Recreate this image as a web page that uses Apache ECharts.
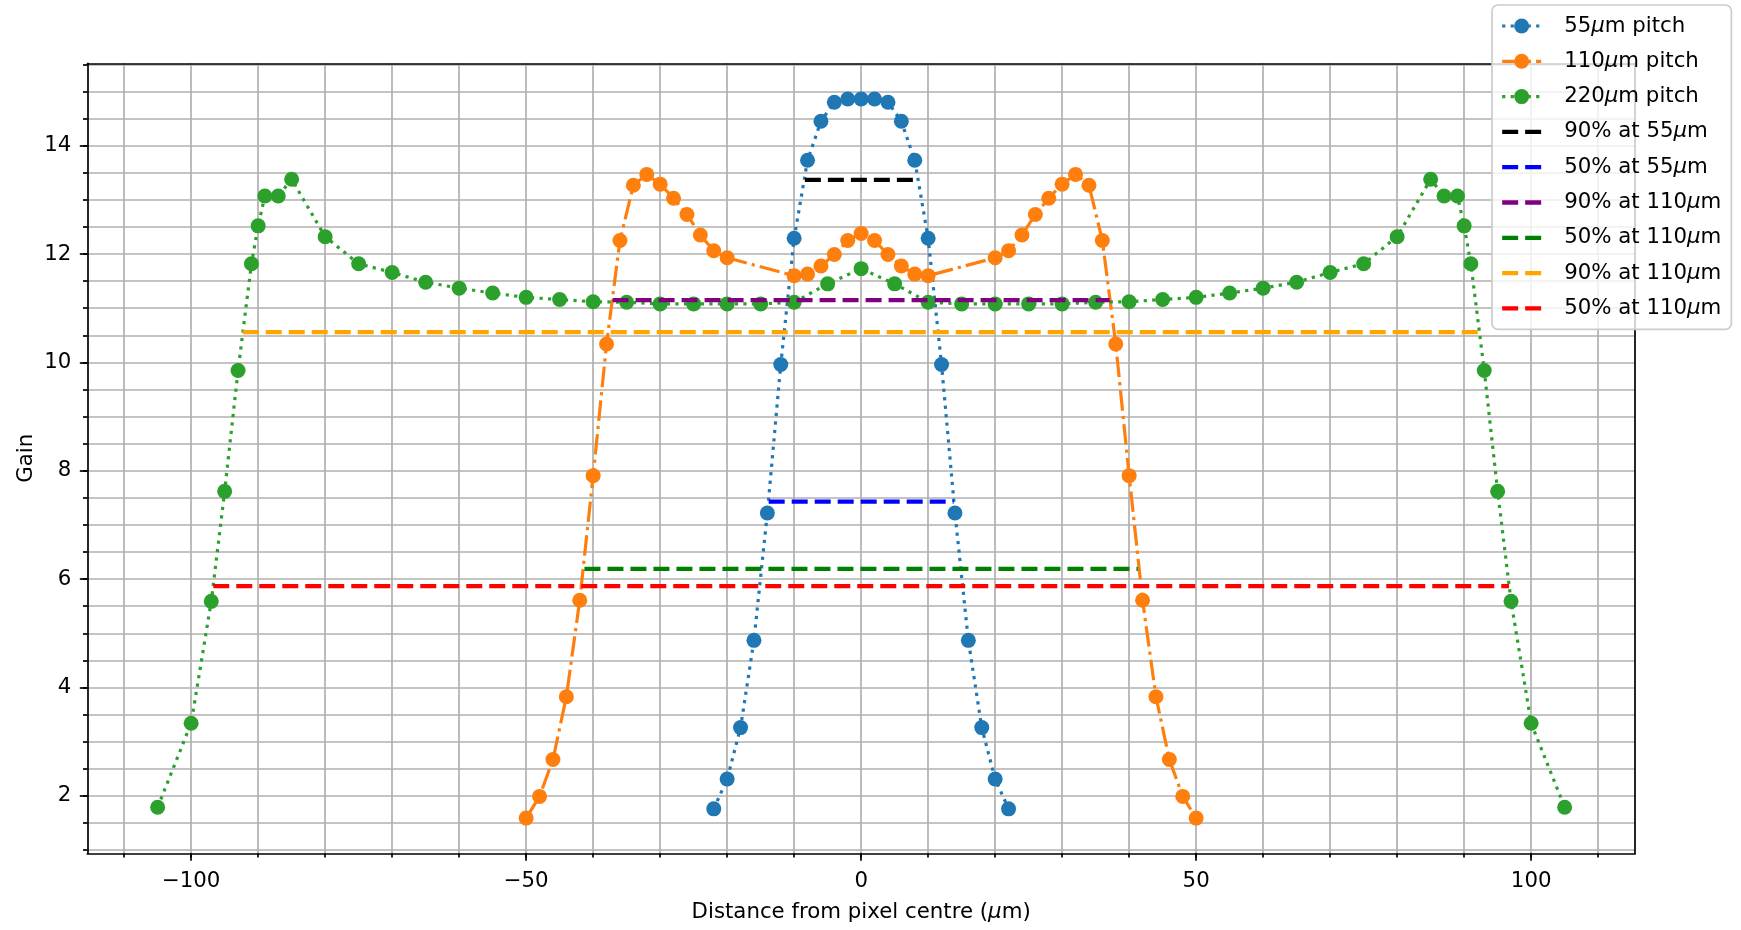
<!DOCTYPE html>
<html>
<head>
<meta charset="utf-8">
<script src="https://cdn.jsdelivr.net/npm/echarts@6/dist/echarts.min.js"></script>
<style>
html,body{margin:0;padding:0;background:#fff;}
#chart{width:1741px;height:930px;}
</style>
</head>
<body>
<div id="chart"></div>
<script>
// ---- data ----
const x55 = [-22,-20,-18,-16,-14,-12,-10,-8,-6,-4,-2,0,2,4,6,8,10,12,14,16,18,20,22];
const gain55 = [1.76,2.31,3.26,4.87,7.22,9.96,12.29,13.73,14.45,14.80,14.86,14.86,14.86,14.80,14.45,13.73,12.29,9.96,7.22,4.87,3.26,2.31,1.76];

const x110 = [-50,-48,-46,-44,-42,-40,-38,-36,-34,-32,-30,-28,-26,-24,-22,-20,-10,-8,-6,-4,-2,0,2,4,6,8,10,20,22,24,26,28,30,32,34,36,38,40,42,44,46,48,50];
const gain110 = [1.59,1.99,2.67,3.83,5.61,7.91,10.34,12.25,13.27,13.47,13.29,13.03,12.73,12.35,12.06,11.93,11.60,11.63,11.78,11.99,12.25,12.38,12.25,11.99,11.78,11.63,11.60,11.93,12.06,12.35,12.73,13.03,13.29,13.47,13.27,12.25,10.34,7.91,5.61,3.83,2.67,1.99,1.59];

const x220 = [-105,-100,-97,-95,-93,-91,-90,-89,-87,-85,-80,-75,-70,-65,-60,-55,-50,-45,-40,-35,-30,-25,-20,-15,-10,-5,0,5,10,15,20,25,30,35,40,45,50,55,60,65,70,75,80,85,87,89,90,91,93,95,97,100,105];
const gain220 = [1.79,3.34,5.59,7.62,9.85,11.82,12.52,13.07,13.07,13.38,12.32,11.82,11.66,11.48,11.37,11.28,11.20,11.16,11.12,11.11,11.08,11.08,11.08,11.08,11.11,11.45,11.73,11.45,11.11,11.08,11.08,11.08,11.08,11.11,11.12,11.16,11.20,11.28,11.37,11.48,11.66,11.82,12.32,13.38,13.07,13.07,12.52,11.82,9.85,7.62,5.59,3.34,1.79];

const refNames = ['90% at 55μm','50% at 55μm','90% at 110μm','50% at 110μm','90% at 110μm\u200b','50% at 110μm\u200b'];
const refLevel = [13.37, 7.43, 11.15, 6.19, 10.56, 5.87];
const refStart = [-8.4, -13.8, -37.1, -41.3, -92.3, -96.7];
const refEnd = [8.4, 13.8, 37.1, 41.3, 92.3, 96.7];

const xMajorTicks = [-100, -50, 0, 50, 100];
const xMinorTicks = [-110,-100,-90,-80,-70,-60,-50,-40,-30,-20,-10,0,10,20,30,40,50,60,70,80,90,100,110];
const yMajorTicks = [2, 4, 6, 8, 10, 12, 14];
const yMinorTicks = [1,1.5,2,2.5,3,3.5,4,4.5,5,5.5,6,6.5,7,7.5,8,8.5,9,9.5,10,10.5,11,11.5,12,12.5,13,13.5,14,14.5,15,15.5];

// ---- styles ----
const FONT = 'DejaVu Sans';
const FS = 21.3;
const refColors = ['#000000', '#0000ff', '#800080', '#008000', '#ffa500', '#ff0000'];
const X_MIN = -115.5, X_MAX = 115.5, Y_MIN = 0.94, Y_MAX = 15.52;
const GRIDC = '#b0b0b0';
const LW = 3.2, SYM = 15;

function zip(xs, ys) { return xs.map((x, i) => [x, ys[i]]); }
function minusFmt(v) { return v < 0 ? '\u2212' + Math.abs(v) : String(v); }

const series = [
  { name: '55μm pitch', type: 'line', data: zip(x55, gain55), symbol: 'circle', symbolSize: SYM,
    lineStyle: { color: '#1f77b4', width: LW, type: [3.2, 5.3] }, itemStyle: { color: '#1f77b4', borderWidth: 0 }, z: 2 },
  { name: '110μm pitch', type: 'line', data: zip(x110, gain110), symbol: 'circle', symbolSize: SYM,
    lineStyle: { color: '#ff7f0e', width: LW, type: [20.5, 5.1, 3.2, 5.1] }, itemStyle: { color: '#ff7f0e', borderWidth: 0 }, z: 2 },
  { name: '220μm pitch', type: 'line', data: zip(x220, gain220), symbol: 'circle', symbolSize: SYM,
    lineStyle: { color: '#2ca02c', width: LW, type: [3.2, 5.3] }, itemStyle: { color: '#2ca02c', borderWidth: 0 }, z: 2 }
];
refNames.forEach((n, i) => {
  series.push({
    name: n, type: 'line', data: [[refStart[i], refLevel[i]], [refEnd[i], refLevel[i]]],
    symbol: 'none', lineStyle: { color: refColors[i], width: 4.3, type: [16, 7] },
    itemStyle: { color: refColors[i] }, z: 3
  });
});

const legendData = [
  { name: '55μm pitch', lineStyle: { width: LW } },
  { name: '110μm pitch', lineStyle: { width: LW } },
  { name: '220μm pitch', lineStyle: { width: LW } }
].concat(refNames.map(n => ({ name: n, lineStyle: { width: 4.3 }, itemStyle: { opacity: 0, color: 'rgba(0,0,0,0)', borderWidth: 0 } })));

const axisLineStyle = { color: '#000', width: 1.7 };
const option = {
  animation: false,
  backgroundColor: '#fff',
  textStyle: { fontFamily: FONT },
  grid: { left: 87.3, right: 106, top: 63.3, bottom: 76.7, containLabel: false },
  xAxis: [
    { type: 'value', min: X_MIN, max: X_MAX, position: 'bottom',
      axisLine: { show: true, onZero: false, lineStyle: axisLineStyle },
      axisTick: { show: true, customValues: xMinorTicks, length: 4.3, lineStyle: axisLineStyle },
      axisLabel: { show: true, customValues: xMajorTicks, formatter: minusFmt, fontSize: FS, color: '#000', fontFamily: FONT, margin: 18 },
      splitLine: { show: true, lineStyle: { color: GRIDC, width: 1.7 } },
      name: 'Distance from pixel centre ({i|μ}m)', nameLocation: 'middle', nameGap: 49,
      nameTextStyle: { fontSize: FS, color: '#000', fontFamily: FONT, rich: { i: { fontStyle: 'italic', fontSize: FS, fontFamily: FONT, color: '#000' } } }
    },
    { type: 'value', min: X_MIN, max: X_MAX, position: 'bottom',
      axisLine: { show: false, onZero: false },
      axisTick: { show: true, customValues: xMajorTicks, length: 7.5, lineStyle: axisLineStyle },
      axisLabel: { show: false }, splitLine: { show: false }
    },
    { type: 'value', min: X_MIN, max: X_MAX, position: 'top',
      axisLine: { show: true, onZero: false, lineStyle: axisLineStyle },
      axisTick: { show: false }, axisLabel: { show: false }, splitLine: { show: false }
    }
  ],
  yAxis: [
    { type: 'value', min: Y_MIN, max: Y_MAX, position: 'left',
      axisLine: { show: true, onZero: false, lineStyle: axisLineStyle },
      axisTick: { show: true, customValues: yMinorTicks, length: 4.3, lineStyle: axisLineStyle },
      axisLabel: { show: false },
      splitLine: { show: true, lineStyle: { color: GRIDC, width: 1.7 } },
      name: 'Gain', nameLocation: 'middle', nameGap: 50,
      nameTextStyle: { fontSize: FS, color: '#000', fontFamily: FONT }
    },
    { type: 'value', min: Y_MIN, max: Y_MAX, position: 'left',
      axisLine: { show: false, onZero: false },
      axisTick: { show: true, customValues: yMajorTicks, length: 7.5, lineStyle: axisLineStyle },
      axisLabel: { show: true, customValues: yMajorTicks, fontSize: FS, color: '#000', fontFamily: FONT, margin: 16 },
      splitLine: { show: false }
    },
    { type: 'value', min: Y_MIN, max: Y_MAX, position: 'right',
      axisLine: { show: true, onZero: false, lineStyle: axisLineStyle },
      axisTick: { show: false }, axisLabel: { show: false }, splitLine: { show: false }
    }
  ],
  legend: {
    orient: 'vertical', left: 1492, top: 5,
    itemWidth: 39, itemHeight: 18.75, itemGap: 11.3,
    padding: [9, 10, 9, 8],
    backgroundColor: 'rgba(255,255,255,0.8)', borderColor: '#cccccc', borderWidth: 1.7, borderRadius: 6,
    selectedMode: false,
    formatter: function (name) { return name.replace('\u200b', '').replace('μ', '{i|μ}'); },
    textStyle: { fontFamily: FONT, fontSize: FS, color: '#000', lineHeight: 24, padding: [0, 0, 0, 18],
      rich: { i: { fontStyle: 'italic', fontSize: FS, fontFamily: FONT, color: '#000', lineHeight: 24 } } },
    data: legendData
  },
  series: series
};

const chart = echarts.init(document.getElementById('chart'), null, { renderer: 'canvas' });
chart.setOption(option);
</script>
</body>
</html>
